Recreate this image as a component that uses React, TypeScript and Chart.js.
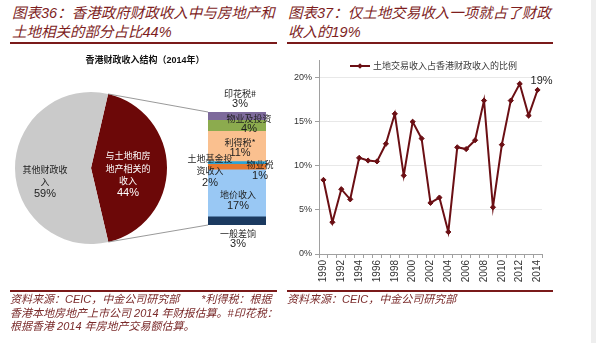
import React, { useEffect, useRef } from 'react';
import { Chart, registerables } from 'chart.js';

Chart.register(...registerables);

// ---------- data ----------
const pieLabels = ['与土地和房地产相关的收入', '其他财政收入'];
const pieValues = [44, 59];
const pieColors = ['#6C0808', '#CACACA'];

// stacked bar, bottom -> top
const barLabels = ['一般差饷', '地价收入', '土地基金投资收入', '物业税', '利得税*', '物业及投资', '印花税#'];
const barValues = [3, 17, 2, 1, 11, 4, 3];
const barColors = ['#1B3A60', '#99C8F4', '#E8792E', '#2EA3D6', '#FAC08F', '#8CAB4E', '#7D6A9B'];

const years = [
  '1990', '1991', '1992', '1993', '1994', '1995', '1996', '1997', '1998', '1999',
  '2000', '2001', '2002', '2003', '2004', '2005', '2006', '2007', '2008', '2009',
  '2010', '2011', '2012', '2013', '2014',
];
const landShare = [
  8.4, 3.6, 7.35, 6.2, 10.9, 10.6, 10.5, 12.5, 15.9, 8.9,
  15.0, 13.1, 5.8, 6.4, 2.5, 12.1, 11.9, 12.9, 17.4, 5.3,
  12.4, 17.4, 19.3, 15.7, 18.6,
];
const lineLabel = '土地交易收入占香港财政收入的比例';
const yMax = 22;
const yStep = 5;

// ---------- styling helpers ----------
const CJK = '"Noto Sans CJK SC", sans-serif';
const NUM = '"Liberation Sans", Arial, sans-serif';
const MIX = '"Liberation Sans", "Noto Sans CJK SC", sans-serif';
const DARKRED = '#7E1E1E';

function wrapText(s: string, n: number): string[] {
  const chars = Array.from(s);
  const out: string[] = [];
  for (let i = 0; i < chars.length; i += n) out.push(chars.slice(i, i + n).join(''));
  return out;
}

function drawBlock(ctx: CanvasRenderingContext2D, lines: string[], cx: number, cy: number, color: string, lh: number) {
  ctx.save();
  ctx.fillStyle = color;
  ctx.textAlign = 'center';
  ctx.textBaseline = 'middle';
  const n = lines.length;
  lines.forEach((t, i) => {
    const isPct = i === n - 1;
    ctx.font = isPct ? `11px ${NUM}` : `9px ${CJK}`;
    ctx.fillText(t, cx, cy + (i - (n - 1) / 2) * lh);
  });
  ctx.restore();
}

// label placement offsets (layout only)
const pieLabelOffsets = [
  { dx: -1, dy: 6.5, color: '#FFFFFF' },
  { dx: -8, dy: 13.5, color: '#222222' },
];
const barLabelOffsets = [
  { dx: 1, dy: 18 },
  { dx: 1, dy: 7 },
  { dx: -27, dy: 3.5 },
  { dx: 23, dy: 7 },
  { dx: 3, dy: 1.5 },
  { dx: 12, dy: -2 },
  { dx: 3, dy: -17.5 },
];

export default function App() {
  const pieRef = useRef<HTMLCanvasElement>(null);
  const barRef = useRef<HTMLCanvasElement>(null);
  const lineRef = useRef<HTMLCanvasElement>(null);

  useEffect(() => {
    const pieLabelPlugin = {
      id: 'pieLabelPlugin',
      afterDatasetsDraw(chart: any) {
        const ctx = chart.ctx;
        const meta = chart.getDatasetMeta(0);
        meta.data.forEach((arc: any, i: number) => {
          const c = arc.getCenterPoint();
          const off = pieLabelOffsets[i];
          const lines = wrapText(pieLabels[i], 5);
          lines.push(pieValues[i] + '%');
          drawBlock(ctx, lines, c.x + off.dx, c.y + off.dy, off.color, 12.4);
        });
      },
    };

    const pie = new Chart(pieRef.current!, {
      type: 'pie',
      data: {
        labels: pieLabels,
        datasets: [{ data: pieValues, backgroundColor: pieColors, borderWidth: 0 }],
      },
      options: {
        responsive: false,
        animation: false,
        rotation: 13,
        layout: { padding: { left: 15, right: 129, top: 42, bottom: 26 } },
        plugins: { legend: { display: false }, tooltip: { enabled: false } },
      },
      plugins: [pieLabelPlugin],
    } as any);

    const barLabelPlugin = {
      id: 'barLabelPlugin',
      afterDatasetsDraw(chart: any) {
        const ctx = chart.ctx as CanvasRenderingContext2D;
        const n = barValues.length;
        const bottomEl = chart.getDatasetMeta(0).data[0];
        const topEl = chart.getDatasetMeta(n - 1).data[0];
        const barLeft = bottomEl.x - bottomEl.width / 2;
        // connector lines from the pie slice to the bar
        const arc: any = pie.getDatasetMeta(0).data[0];
        const R = arc.outerRadius;
        ctx.save();
        ctx.strokeStyle = '#7F7F7F';
        ctx.lineWidth = 0.8;
        ctx.beginPath();
        ctx.moveTo(arc.x + R * Math.cos(arc.startAngle), arc.y + R * Math.sin(arc.startAngle));
        ctx.lineTo(barLeft, topEl.y);
        ctx.moveTo(arc.x + R * Math.cos(arc.endAngle), arc.y + R * Math.sin(arc.endAngle));
        ctx.lineTo(barLeft, bottomEl.base);
        ctx.stroke();
        ctx.restore();
        for (let i = 0; i < n; i++) {
          const el = chart.getDatasetMeta(i).data[0];
          const cy = (el.y + el.base) / 2;
          const off = barLabelOffsets[i];
          const lines = wrapText(barLabels[i], 5);
          lines.push(barValues[i] + '%');
          drawBlock(ctx, lines, el.x + off.dx, cy + off.dy, '#1E1E1E', lines.length > 2 ? 12.5 : 11);
        }
      },
    };

    const bar = new Chart(barRef.current!, {
      type: 'bar',
      data: {
        labels: ['2014'],
        datasets: barLabels.map((l, i) => ({
          label: l,
          data: [barValues[i]],
          backgroundColor: barColors[i],
          borderWidth: 0,
          categoryPercentage: 1,
          barPercentage: 1,
        })),
      },
      options: {
        responsive: false,
        animation: false,
        layout: { padding: { left: 208, right: 30, top: 62, bottom: 45 } },
        plugins: { legend: { display: false }, tooltip: { enabled: false } },
        scales: {
          x: { display: false, stacked: true },
          y: { display: false, stacked: true, min: 0, max: barValues.reduce((a, b) => a + b, 0) },
        },
      },
      plugins: [barLabelPlugin],
    } as any);

    const lineExtras = {
      id: 'lineExtras',
      afterDatasetsDraw(chart: any) {
        const ctx = chart.ctx as CanvasRenderingContext2D;
        const ds = chart.data.datasets[0];
        const { left, top } = chart.chartArea;
        // legend
        const x0 = left + 31;
        const y0 = top + 6;
        ctx.save();
        ctx.strokeStyle = ds.borderColor;
        ctx.lineWidth = 2;
        ctx.beginPath();
        ctx.moveTo(x0, y0);
        ctx.lineTo(x0 + 20, y0);
        ctx.stroke();
        ctx.fillStyle = ds.borderColor;
        ctx.beginPath();
        ctx.moveTo(x0 + 10, y0 - 2.8);
        ctx.lineTo(x0 + 12.8, y0);
        ctx.lineTo(x0 + 10, y0 + 2.8);
        ctx.lineTo(x0 + 7.2, y0);
        ctx.closePath();
        ctx.fill();
        ctx.fillStyle = '#3A3A3A';
        ctx.font = `9px ${CJK}`;
        ctx.textAlign = 'left';
        ctx.textBaseline = 'middle';
        ctx.fillText(ds.label, x0 + 23, y0);
        // end label
        const meta = chart.getDatasetMeta(0);
        const last = meta.data[meta.data.length - 1];
        const v = ds.data[ds.data.length - 1];
        ctx.fillStyle = '#222222';
        ctx.font = `11px ${NUM}`;
        ctx.textAlign = 'center';
        ctx.fillText(Math.round(v) + '%', last.x + 4, last.y - 9);
        ctx.restore();
      },
    };

    const line = new Chart(lineRef.current!, {
      type: 'line',
      data: {
        labels: years,
        datasets: [{
          label: lineLabel,
          data: landShare,
          borderColor: '#6B0F14',
          backgroundColor: '#6B0F14',
          borderWidth: 2,
          pointStyle: 'rectRot',
          pointRadius: 2.6,
          pointBorderWidth: 1,
          tension: 0,
        }],
      },
      options: {
        responsive: false,
        animation: false,
        layout: { padding: { left: 0, right: 49, top: 10, bottom: 5 } },
        plugins: { legend: { display: false }, tooltip: { enabled: false } },
        scales: {
          x: {
            offset: true,
            grid: { offset: true, drawOnChartArea: false, drawTicks: true, tickLength: 4, color: '#A0A0A0' },
            border: { color: '#A0A0A0' },
            ticks: {
              autoSkip: false,
              minRotation: 90,
              maxRotation: 90,
              padding: 2,
              color: '#333333',
              font: { family: NUM, size: 10 },
              callback: (_v: any, i: number) => (i % 2 === 0 ? years[i] : ''),
            },
            afterFit: (s: any) => { s.height = 36; },
          },
          y: {
            min: 0,
            max: yMax,
            ticks: {
              stepSize: yStep,
              includeBounds: false,
              padding: 3,
              color: '#333333',
              font: { family: NUM, size: 9 },
              callback: (v: any) => v + '%',
            },
            grid: { color: '#E8E8E8', tickColor: '#A0A0A0', tickLength: 4 },
            border: { color: '#A0A0A0' },
            afterFit: (s: any) => { s.width = 32; },
          },
        },
      },
      plugins: [lineExtras],
    } as any);

    return () => {
      bar.destroy();
      pie.destroy();
      line.destroy();
    };
  }, []);

  const abs = (o: React.CSSProperties): React.CSSProperties => ({ position: 'absolute', ...o });
  const titleStyle: React.CSSProperties = {
    fontFamily: MIX,
    fontStyle: 'italic',
    fontSize: '14.5px',
    lineHeight: '19px',
    color: DARKRED,
    whiteSpace: 'pre',
  };
  const footStyle: React.CSSProperties = {
    fontFamily: MIX,
    fontStyle: 'italic',
    fontSize: '11px',
    lineHeight: '13.5px',
    color: '#7A2A2A',
    whiteSpace: 'pre',
  };

  return (
    <div style={abs({ left: 0, top: 0, width: 596, height: 343, background: '#FFFFFF', overflow: 'hidden' })}>
      <div style={abs({ left: 12, top: 4, ...titleStyle })}>
        {'图表36：香港政府财政收入中与房地产和\n土地相关的部分占比44%'}
      </div>
      <div style={abs({ left: 288, top: 4, ...titleStyle })}>
        {'图表37：仅土地交易收入一项就占了财政\n收入的19%'}
      </div>
      <div style={abs({ left: 10, top: 42, width: 267, height: 2, background: '#7A1A1A' })} />
      <div style={abs({ left: 287, top: 42, width: 266, height: 2, background: '#7A1A1A' })} />

      <canvas ref={pieRef} width={296} height={220} style={abs({ left: 0, top: 50, width: 296, height: 220 })} />
      <canvas ref={barRef} width={296} height={220} style={abs({ left: 0, top: 50, width: 296, height: 220 })} />
      <canvas ref={lineRef} width={304} height={245} style={abs({ left: 287, top: 50, width: 304, height: 245 })} />

      <div style={abs({ left: 45, top: 54, width: 200, textAlign: 'center', fontFamily: MIX, fontSize: '9px', fontWeight: 'bold', color: '#111111', lineHeight: '12px' })}>
        香港财政收入结构（2014年）
      </div>

      <div style={abs({ left: 10, top: 290, width: 267, height: 2, background: '#7A1A1A' })} />
      <div style={abs({ left: 287, top: 290, width: 266, height: 2, background: '#7A1A1A' })} />
      <div style={abs({ left: 10, top: 293, ...footStyle })}>
        {'资料来源：CEIC，中金公司研究部　　*利得税：根据\n香港本地房地产上市公司 2014 年财报估算。#印花税：\n根据香港 2014 年房地产交易额估算。'}
      </div>
      <div style={abs({ left: 287, top: 293, ...footStyle })}>
        {'资料来源：CEIC，中金公司研究部'}
      </div>
      <div style={abs({ left: 591, top: 0, width: 5, height: 343, background: '#EEEEEE' })} />
    </div>
  );
}
